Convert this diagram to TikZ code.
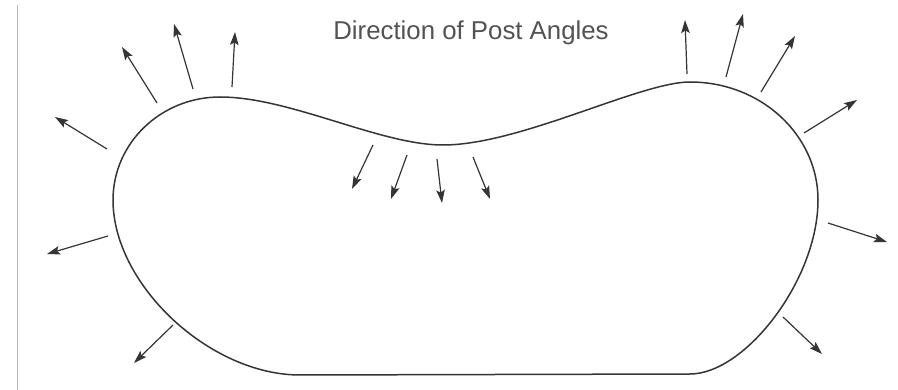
\documentclass[tikz,border=0pt]{standalone}
\usepackage{fontspec}
\setmainfont{Liberation Sans}
\usetikzlibrary{arrows.meta}
\definecolor{ink}{HTML}{353535}
\tikzset{
  post/.style={draw=ink, line width=1.2pt, -{Stealth[length=13pt,width=8.5pt,inset=2.5pt]}},
  outline/.style={draw=ink, line width=1.5pt}
}
\begin{document}
\begin{tikzpicture}[x=1pt,y=-1pt]
\useasboundingbox[fill=white] (0,0) rectangle (898,390);
% scan edge
\draw[gray!55, line width=0.8pt] (17,5) -- (17,390);
% title
\node[font=\fontsize{25.8}{30}\selectfont, text=ink!85, inner sep=0pt] (title) at (471,33) {Direction of Post Angles};
% outline
\draw[outline] (300,375) -- (690,374)
  .. controls (745,374) and (818,280) .. (818,200)
  .. controls (818,135) and (761,82) .. (690,82)
  .. controls (640,82) and (520,145) .. (443,145)
  .. controls (380,145) and (290,97) .. (220,97)
  .. controls (161,97) and (113,143) .. (113,200)
  .. controls (113,285) and (210,375) .. (300,375) -- cycle;
% arrows
\draw[post] (107,149) -- (55,117);
\draw[post] (157,103) -- (122,47);
\draw[post] (193,89) -- (174,24);
\draw[post] (232,87) -- (235,32);
\draw[post] (373,145) -- (352,189);
\draw[post] (407,155) -- (391,199);
\draw[post] (437,159) -- (442,203);
\draw[post] (473,157) -- (490,199);
\draw[post] (687,74) -- (685,20);
\draw[post] (726,77) -- (743,14);
\draw[post] (761,92) -- (795,36);
\draw[post] (804,133) -- (857,100);
\draw[post] (828,223) -- (887,242);
\draw[post] (783,317) -- (822,354);
\draw[post] (108,236) -- (47,254);
\draw[post] (173,325) -- (134,363);
\end{tikzpicture}
\end{document}
